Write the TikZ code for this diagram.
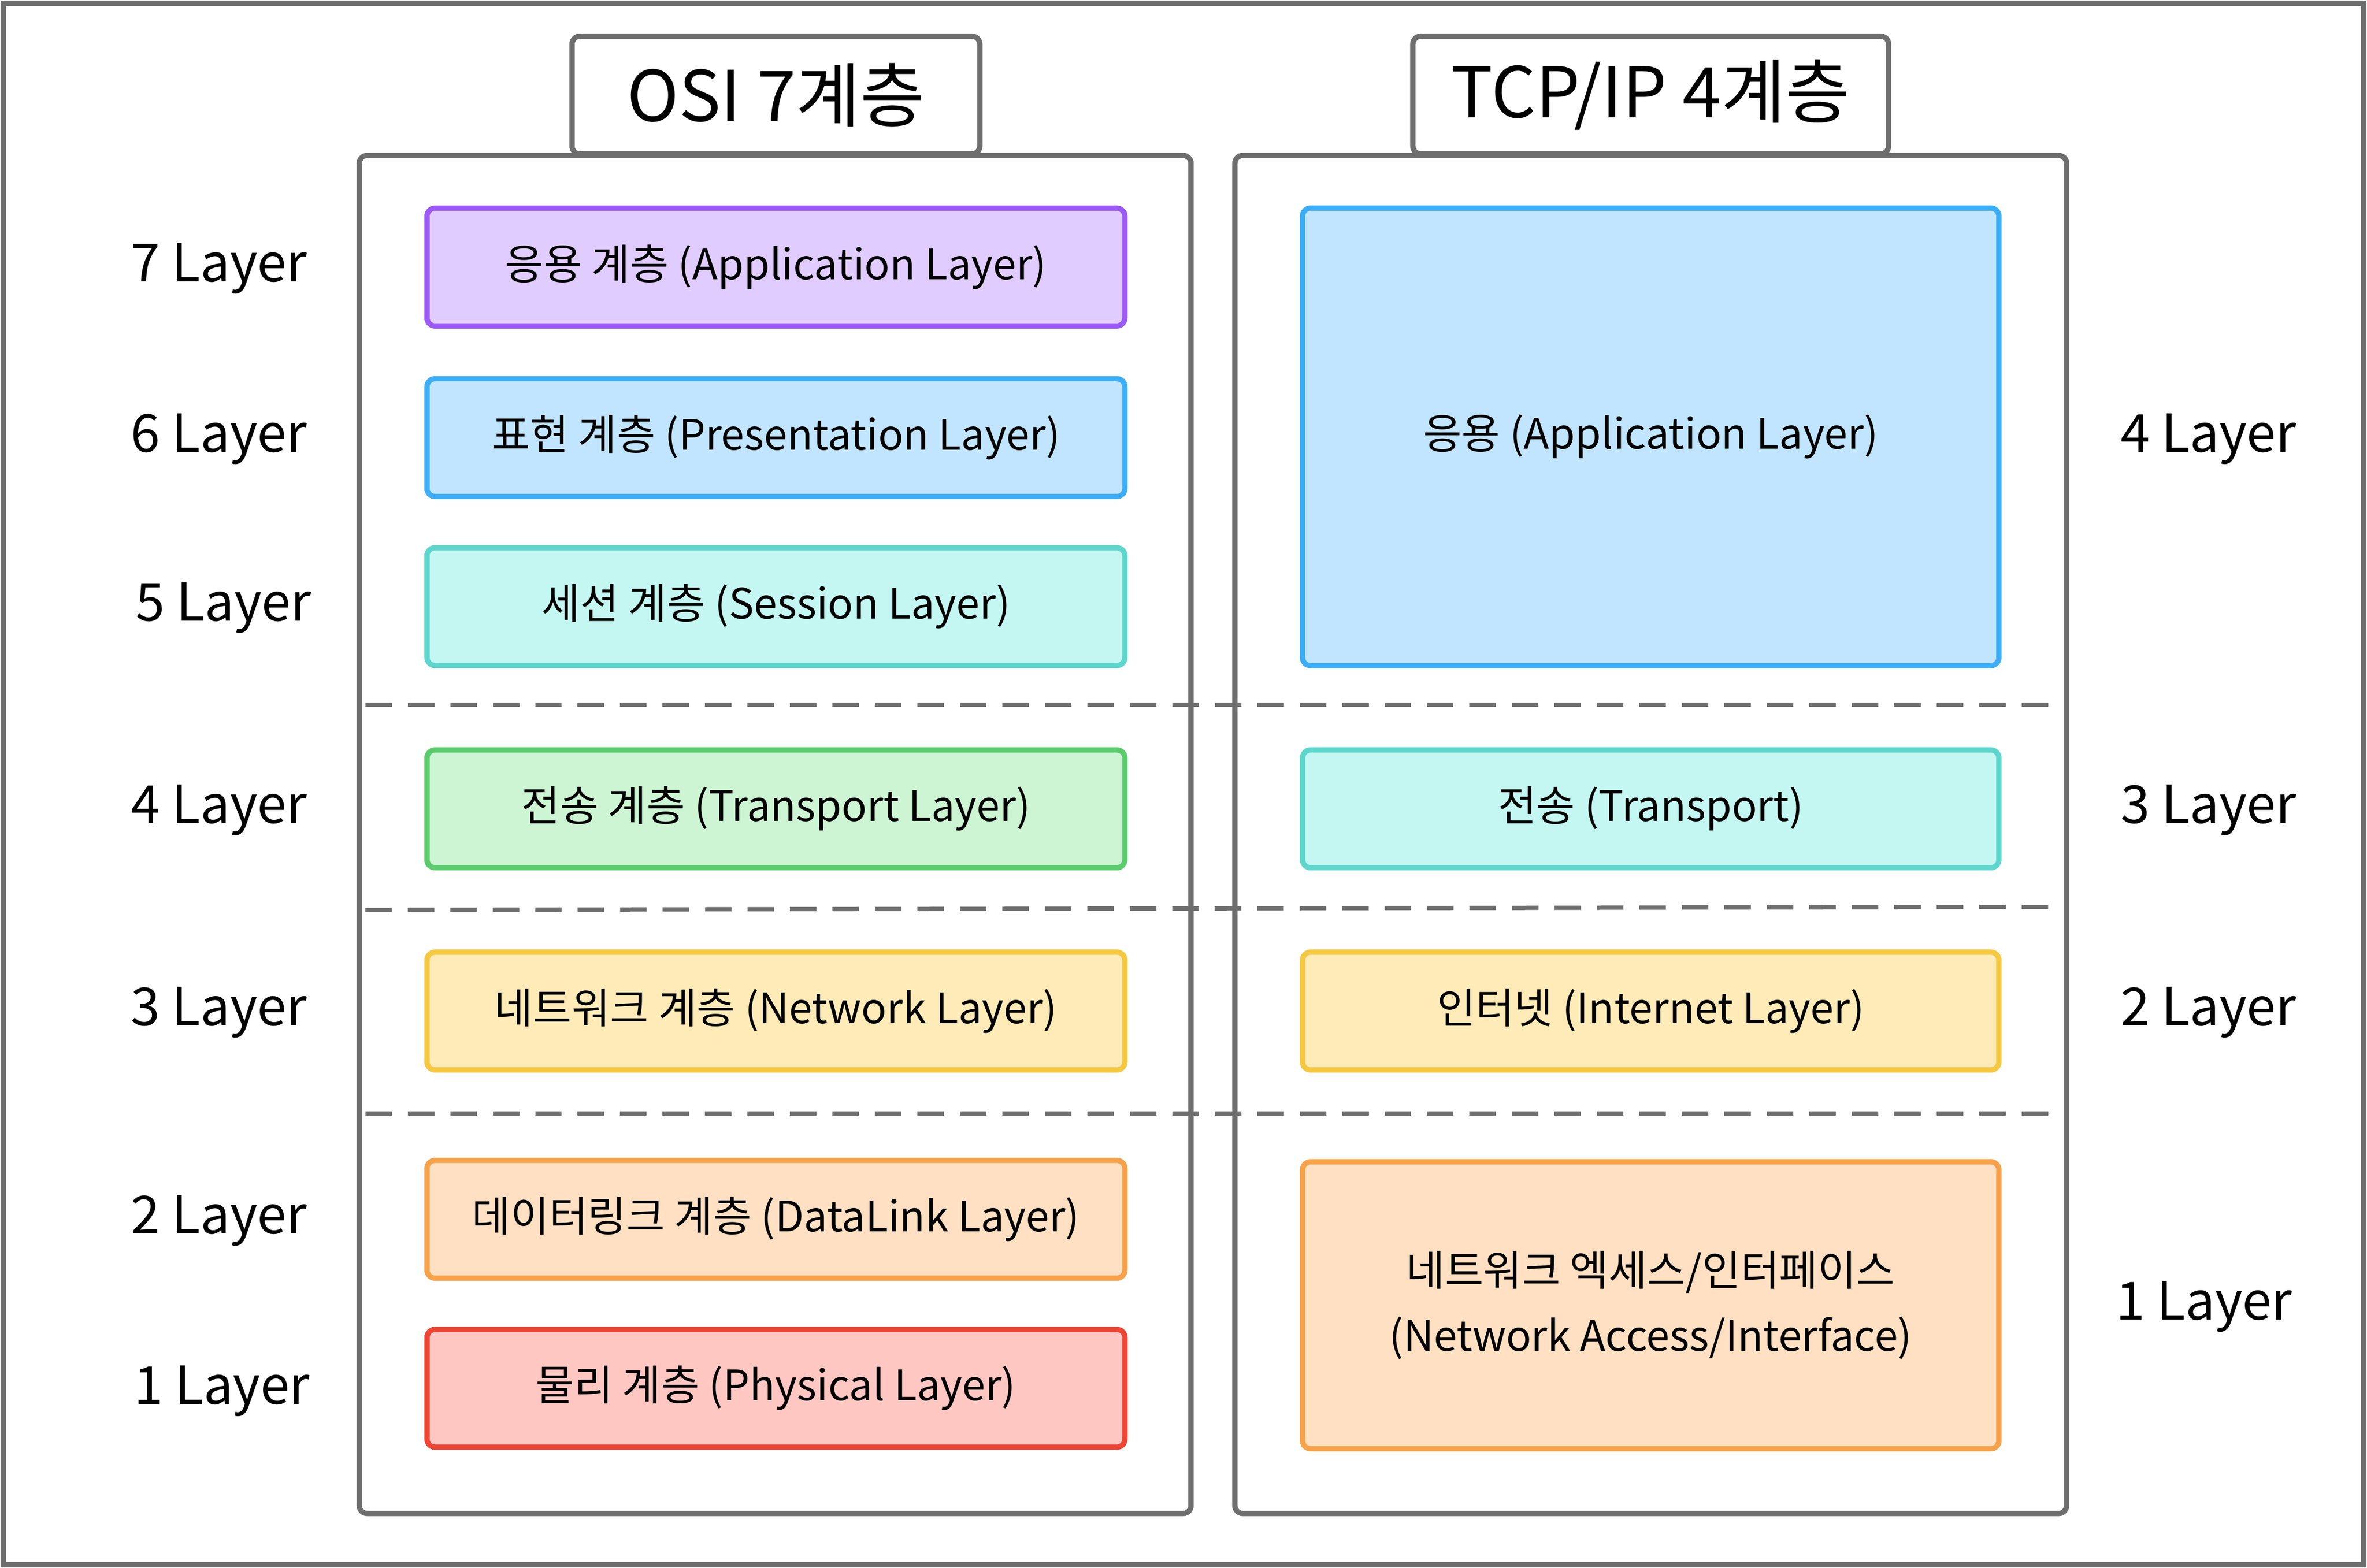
\documentclass[tikz,border=0pt]{standalone}
\usepackage{fontspec}
\setmainfont{Noto Sans CJK KR}
\usetikzlibrary{positioning}
\definecolor{frameGray}{HTML}{6E6E6E}
\definecolor{purpleFill}{HTML}{E0CCFF}\definecolor{purpleLine}{HTML}{9B59F5}
\definecolor{blueFill}{HTML}{C2E5FF}\definecolor{blueLine}{HTML}{3DAEF5}
\definecolor{cyanFill}{HTML}{C4F7F2}\definecolor{cyanLine}{HTML}{5ED6CC}
\definecolor{greenFill}{HTML}{CDF5D3}\definecolor{greenLine}{HTML}{5CCB6E}
\definecolor{yellowFill}{HTML}{FFEBB8}\definecolor{yellowLine}{HTML}{F5C842}
\definecolor{orangeFill}{HTML}{FFE0C2}\definecolor{orangeLine}{HTML}{F5A24A}
\definecolor{redFill}{HTML}{FFC7C2}\definecolor{redLine}{HTML}{EE4433}
\begin{document}
\begin{tikzpicture}[x=0.01cm,y=-0.01cm]
	\tikzset{panel/.style = {draw=frameGray,line width=1pt,rounded corners=1.5pt}}
	\tikzset{layer/.style = {draw=#1Line,fill=#1Fill,line width=1pt,rounded corners=1.5pt,font=\fontsize{7.9pt}{11pt}\selectfont,align=center}}
	\tikzset{lbl/.style = {font=\fontsize{9.9pt}{12pt}\selectfont}}
	\tikzset{sep/.style = {draw=frameGray,line width=0.8pt,dash pattern=on 5pt off 3pt}}
	\draw[frameGray,line width=1pt] (2,2) rectangle (1566,1037);
	\useasboundingbox (0,0) rectangle (1568,1039);
	%panels
	\draw[panel] (238,103) rectangle (789,1003);
	\draw[panel] (818,103) rectangle (1369,1003);
	\node[panel,fill=white,minimum width=2.70cm,minimum height=0.78cm,font=\fontsize{13.2pt}{16pt}\selectfont] (osiTitle) at (514,63) {OSI 7계층};
	\node[panel,fill=white,minimum width=3.15cm,minimum height=0.78cm,font=\fontsize{13.2pt}{16pt}\selectfont] (tcpTitle) at (1093.5,63) {TCP/IP 4계층};
	%separators
	\coordinate (s1a) at (242,467); \coordinate (s1b) at (1365,467);
	\coordinate (s2a) at (242,603); \coordinate (s2b) at (1365,601);
	\coordinate (s3a) at (242,738); \coordinate (s3b) at (1365,738);
	\draw[sep] (s1a) -- (s1b);
	\draw[sep] (s2a) -- (s2b);
	\draw[sep] (s3a) -- (s3b);
	%OSI layers
	\node[layer=purple,minimum width=4.62cm,minimum height=0.78cm] (osi7) at (514,177) {응용 계층 (Application Layer)};
	\node[layer=blue,minimum width=4.62cm,minimum height=0.78cm] (osi6) at (514,290) {표현 계층 (Presentation Layer)};
	\node[layer=cyan,minimum width=4.62cm,minimum height=0.78cm] (osi5) at (514,402) {세션 계층 (Session Layer)};
	\node[layer=green,minimum width=4.62cm,minimum height=0.78cm] (osi4) at (514,536) {전송 계층 (Transport Layer)};
	\node[layer=yellow,minimum width=4.62cm,minimum height=0.78cm] (osi3) at (514,670) {네트워크 계층 (Network Layer)};
	\node[layer=orange,minimum width=4.62cm,minimum height=0.78cm] (osi2) at (514,808) {데이터링크 계층 (DataLink Layer)};
	\node[layer=red,minimum width=4.62cm,minimum height=0.78cm] (osi1) at (514,920) {물리 계층 (Physical Layer)};
	%TCP/IP layers
	\node[layer=blue,minimum width=4.61cm,minimum height=3.03cm] (tcp4) at (1093.5,289.5) {응용 (Application Layer)};
	\node[layer=cyan,minimum width=4.61cm,minimum height=0.78cm] (tcp3) at (1093.5,536) {전송 (Transport)};
	\node[layer=yellow,minimum width=4.61cm,minimum height=0.78cm] (tcp2) at (1093.5,670) {인터넷 (Internet Layer)};
	\node[layer=orange,minimum width=4.61cm,minimum height=1.90cm,font=\fontsize{7.9pt}{12.3pt}\selectfont] (tcp1) at (1093.5,865) {네트워크 엑세스/인터페이스\\(Network Access/Interface)};
	%left labels
	\node[lbl] (l7) at (145,178) {7 Layer};
	\node[lbl] (l6) at (145,291) {6 Layer};
	\node[lbl] (l5) at (148,403) {5 Layer};
	\node[lbl] (l4) at (145,537) {4 Layer};
	\node[lbl] (l3) at (145,671) {3 Layer};
	\node[lbl] (l2) at (145,809) {2 Layer};
	\node[lbl] (l1) at (147,922) {1 Layer};
	%right labels
	\node[lbl] (r4) at (1463,291) {4 Layer};
	\node[lbl] (r3) at (1463,537) {3 Layer};
	\node[lbl] (r2) at (1463,671) {2 Layer};
	\node[lbl] (r1) at (1460,866) {1 Layer};
\end{tikzpicture}
\end{document}
